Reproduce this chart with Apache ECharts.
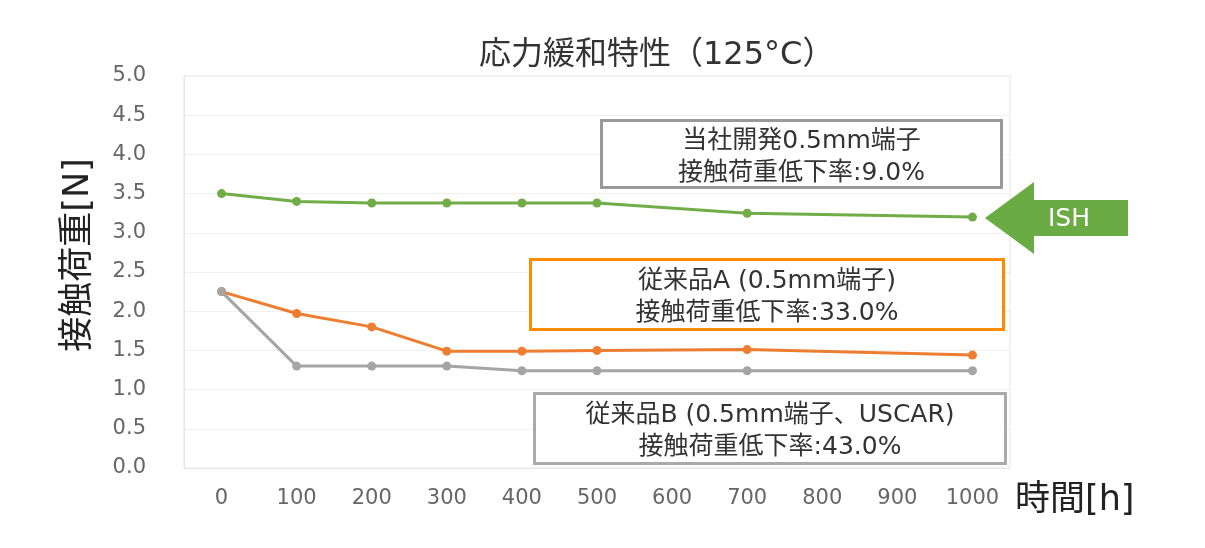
<!DOCTYPE html>
<html>
<head>
<meta charset="utf-8">
<script src="https://cdn.jsdelivr.net/npm/echarts@6/dist/echarts.min.js"></script>
<style>
  html, body { margin: 0; padding: 0; background: #fff; }
  #main { width: 1205px; height: 548px; }
</style>
</head>
<body>
<div id="main"></div>
<script>
// 経過時間 (h)
var hours = ['0', '100', '200', '300', '400', '500', '600', '700', '800', '900', '1000'];
// 接触荷重 (N) - null は測定なし
var ishLoad = [3.5, 3.4, 3.38, 3.38, 3.38, 3.38, null, 3.25, null, null, 3.2];
var productA = [2.25, 1.97, 1.8, 1.49, 1.49, 1.5, null, 1.51, null, null, 1.44];
var productB = [2.25, 1.3, 1.3, 1.3, 1.24, 1.24, null, 1.24, null, null, 1.24];

// 英数字は幅広の DejaVu、漢字は Noto CJK
var font = '"DejaVu Sans", "Noto Sans CJK JP", sans-serif';

var myChart = echarts.init(document.getElementById('main'));

function lineSeries(name, data, color) {
    return {
        name: name,
        type: 'line',
        data: data,
        connectNulls: true,
        symbol: 'circle',
        symbolSize: 9,
        lineStyle: {color: color, width: 3},
        itemStyle: {color: color},
        animation: false
    };
}

function noteBox(x, y, w, h, border, text) {
    return {
        type: 'group',
        left: x,
        top: y,
        z: 20,
        children: [
            {type: 'rect', z: 20, shape: {x: 0, y: 0, width: w, height: h},
             style: {fill: '#fff', stroke: border, lineWidth: 3}},
            {type: 'text', z: 21, x: w / 2, y: h / 2 + 3,
             style: {text: text, fill: '#333', font: '25px ' + font,
                     align: 'center', verticalAlign: 'middle', lineHeight: 32}}
        ]
    };
}

var option = {
    backgroundColor: '#fff',
    title: {
        text: '応力緩和特性（125°C）',
        left: 474,
        top: 35,
        textStyle: {fontFamily: font, fontSize: 32, fontWeight: 'normal', color: '#333'}
    },
    grid: {
        left: 184, right: 195, top: 76, bottom: 80,
        show: true, borderColor: '#e6e6e6', borderWidth: 1
    },
    xAxis: {
        type: 'category',
        data: hours,
        boundaryGap: true,
        name: '時間[h]',
        nameLocation: 'end',
        nameGap: 5,
        nameTextStyle: {fontFamily: font, fontSize: 35, color: '#222',
                        verticalAlign: 'top', padding: [15, 0, 0, 0]},
        axisLine: {show: true, lineStyle: {color: '#e6e6e6'}},
        axisTick: {show: false},
        axisLabel: {fontFamily: font, fontSize: 21, color: '#666', margin: 20},
        splitLine: {show: false}
    },
    yAxis: {
        type: 'value',
        min: 0,
        max: 5,
        interval: 0.5,
        name: '接触荷重[N]',
        nameLocation: 'middle',
        nameRotate: 90,
        nameGap: 88,
        nameTextStyle: {fontFamily: font, fontSize: 35, color: '#222',
                        padding: [0, 0, 0, 34]},
        axisLine: {show: true, lineStyle: {color: '#e6e6e6'}},
        axisTick: {show: false},
        axisLabel: {
            fontFamily: font, fontSize: 21, color: '#666', margin: 38,
            formatter: function (v) { return v.toFixed(1); }
        },
        splitLine: {lineStyle: {color: '#f0f0f0', width: 1}}
    },
    series: [
        lineSeries('ISH', ishLoad, '#70ad47'),
        lineSeries('従来品A', productA, '#ed7d31'),
        lineSeries('従来品B', productB, '#a5a5a5')
    ],
    graphic: [
        noteBox(600, 119, 400, 67, '#999', '当社開発0.5mm端子\n接触荷重低下率:9.0%'),
        noteBox(529, 258, 473, 70, '#ff8c00', '従来品A (0.5mm端子)\n接触荷重低下率:33.0%'),
        noteBox(533, 392, 471, 70, '#aaa', '従来品B (0.5mm端子、USCAR)\n接触荷重低下率:43.0%'),
        {
            type: 'polygon',
            z: 20,
            shape: {points: [[985, 218], [1034, 182], [1034, 200], [1128, 200],
                             [1128, 236], [1034, 236], [1034, 254]]},
            style: {fill: '#6aab43'}
        },
        {
            type: 'text', x: 1069, y: 219, z: 21,
            style: {text: 'ISH', fill: '#fff', font: '25px ' + font,
                    align: 'center', verticalAlign: 'middle'}
        }
    ]
};

myChart.setOption(option);
</script>
</body>
</html>
